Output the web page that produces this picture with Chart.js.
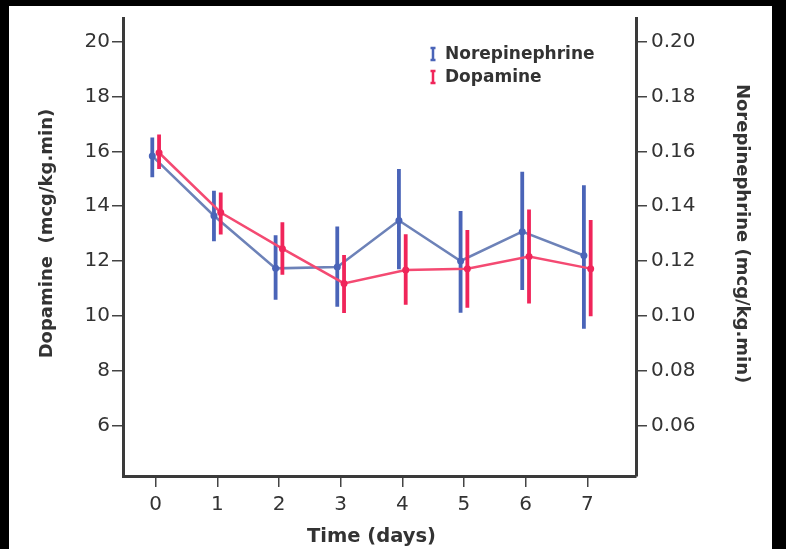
<!DOCTYPE html>
<html>
<head>
<meta charset="utf-8">
<script src="https://cdn.jsdelivr.net/npm/chart.js@4.4.1/dist/chart.umd.min.js"></script>
<style>
  html, body { margin: 0; padding: 0; background: #000; }
  #wrap { position: absolute; left: 9px; top: 6px; width: 763px; height: 543px; background: #fff; }
</style>
</head>
<body>
<div id="wrap"><canvas id="doseChart" width="763" height="543"></canvas></div>
<script>
const days = [0, 1, 2, 3, 4, 5, 6, 7];

// dopamine, mcg/kg.min (left axis): mean and error bar ends
const dopaMean = [15.95, 13.77, 12.45, 11.18, 11.67, 11.72, 12.16, 11.72];
const dopaLow  = [15.36, 12.97, 11.50, 10.10, 10.40, 10.29, 10.45, 9.98];
const dopaHigh = [16.62, 14.50, 13.41, 12.22, 12.98, 13.13, 13.88, 13.50];

// norepinephrine, mcg/kg.min (right axis)
const noreMean = [0.1583, 0.1365, 0.1173, 0.1178, 0.1348, 0.1200, 0.1307, 0.1220];
const noreLow  = [0.1506, 0.1272, 0.1058, 0.1033, 0.1170, 0.1011, 0.1094, 0.0953];
const noreHigh = [0.1651, 0.1456, 0.1294, 0.1326, 0.1536, 0.1382, 0.1526, 0.1476];

const dopaTicks = [6, 8, 10, 12, 14, 16, 18, 20];
const noreTicks = [0.06, 0.08, 0.10, 0.12, 0.14, 0.16, 0.18, 0.20];

const RED = '#f0255a';
const RED_LINE = '#f44a72';
const BLUE = '#4a64b8';
const BLUE_LINE = '#6d82b8';
const INK = '#333333';
const FAMILY = '"DejaVu Sans", Verdana, sans-serif';
const SHIFT = 0.055; // small dodge so the two series don't overlap

function meanPoints(vals, shift) {
  return days.map((d, i) => ({ x: d + shift, y: vals[i] }));
}

// each bar is a two-point segment, separated by a null gap
function barPoints(lo, hi, shift) {
  const pts = [];
  days.forEach((d, i) => {
    pts.push({ x: d + shift, y: lo[i] }, { x: d + shift, y: hi[i] }, { x: d + shift, y: null });
  });
  return pts;
}

// tight line height so the top label doesn't push the plot area down
const tickFont = { family: FAMILY, size: 20, lineHeight: 0.8 };

// axis titles and the small I-beam legend
const decorations = {
  id: 'decorations',
  afterDraw(chart) {
    const { ctx, scales, chartArea } = chart;
    const y = scales.y, x = scales.x;
    ctx.save();
    ctx.fillStyle = INK;
    ctx.textAlign = 'center';
    ctx.textBaseline = 'middle';
    ctx.font = 'bold 18px ' + FAMILY;

    const yMid = (y.getPixelForValue(dopaTicks[0]) + y.getPixelForValue(dopaTicks[dopaTicks.length - 1])) / 2;
    ctx.save();
    ctx.translate(38, yMid);
    ctx.rotate(-Math.PI / 2);
    ctx.fillText('Dopamine  (mcg/kg.min)', 0, 0);
    ctx.restore();

    ctx.save();
    ctx.translate(733, yMid);
    ctx.rotate(Math.PI / 2);
    ctx.fillText('Norepinephrine (mcg/kg.min)', 0, 0);
    ctx.restore();

    ctx.font = 'bold 19.5px ' + FAMILY;
    const xMid = (x.getPixelForValue(days[0]) + x.getPixelForValue(days[days.length - 1])) / 2;
    ctx.fillText('Time (days)', xMid, 531);

    // legend
    const items = [['Norepinephrine', BLUE], ['Dopamine', RED]];
    const lx = chartArea.right - 203;
    ctx.textAlign = 'left';
    ctx.font = 'bold 17px ' + FAMILY;
    items.forEach(([label, color], i) => {
      const ly = 48 + i * 23;
      ctx.strokeStyle = color;
      ctx.lineWidth = 2.5;
      ctx.beginPath();
      ctx.moveTo(lx, ly - 6); ctx.lineTo(lx, ly + 6);
      ctx.moveTo(lx - 2.5, ly - 6); ctx.lineTo(lx + 2.5, ly - 6);
      ctx.moveTo(lx - 2.5, ly + 6); ctx.lineTo(lx + 2.5, ly + 6);
      ctx.stroke();
      ctx.fillStyle = INK;
      ctx.fillText(label, lx + 12, ly + 1);
    });
    ctx.restore();
  }
};

function axisStyle(extra) {
  return Object.assign({
    grid: { drawOnChartArea: false, tickLength: 11, color: '#444', lineWidth: 1.5 },
    border: { color: '#3a3a3a', width: 3 }
  }, extra);
}

new Chart(document.getElementById('doseChart'), {
  type: 'line',
  data: {
    datasets: [
      { label: 'Dopamine', data: meanPoints(dopaMean, SHIFT), yAxisID: 'y',
        borderColor: RED_LINE, backgroundColor: RED, borderWidth: 2.5,
        pointRadius: 3.5, pointBorderWidth: 0, tension: 0 },
      { label: 'Dopamine range', data: barPoints(dopaLow, dopaHigh, SHIFT), yAxisID: 'y',
        borderColor: RED, borderWidth: 3.8, pointRadius: 0, spanGaps: false },
      { label: 'Norepinephrine', data: meanPoints(noreMean, -SHIFT), yAxisID: 'yR',
        borderColor: BLUE_LINE, backgroundColor: BLUE, borderWidth: 2.5,
        pointRadius: 3.5, pointBorderWidth: 0, tension: 0 },
      { label: 'Norepinephrine range', data: barPoints(noreLow, noreHigh, -SHIFT), yAxisID: 'yR',
        borderColor: BLUE, borderWidth: 3.8, pointRadius: 0, spanGaps: false }
    ]
  },
  options: {
    responsive: false,
    animation: false,
    layout: { padding: { top: 9, left: 0, right: 0, bottom: 0 } },
    plugins: { legend: { display: false }, tooltip: { enabled: false } },
    scales: {
      x: axisStyle({
        type: 'linear', min: -0.53, max: 7.79,
        afterBuildTicks: (s) => { s.ticks = days.map(v => ({ value: v })); },
        afterFit: (s) => { s.height = 73; },
        ticks: { font: { family: FAMILY, size: 20 }, color: INK, padding: 6, callback: v => String(v) }
      }),
      y: axisStyle({
        position: 'left', min: 4.15, max: 20.87,
        afterBuildTicks: (s) => { s.ticks = dopaTicks.map(v => ({ value: v })); },
        afterFit: (s) => { s.width = 114; },
        ticks: { font: tickFont, color: INK, padding: 2, callback: v => String(v) }
      }),
      yR: axisStyle({
        position: 'right', min: 0.0415, max: 0.2087,
        afterBuildTicks: (s) => { s.ticks = noreTicks.map(v => ({ value: v })); },
        afterFit: (s) => { s.width = 136; },
        ticks: { font: tickFont, color: INK, padding: 4, callback: v => v.toFixed(2) }
      })
    }
  },
  plugins: [decorations]
});
</script>
</body>
</html>
